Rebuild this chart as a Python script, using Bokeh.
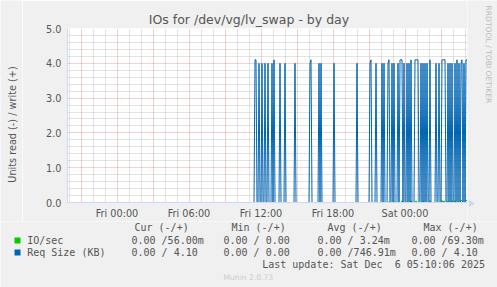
import pandas as pd
from math import pi
from bokeh.plotting import figure
from bokeh.layouts import row, column
from bokeh.models import Range1d, FixedTicker, ColumnDataSource
from bokeh.core.properties import value
from bokeh.embed import file_html
from bokeh.resources import INLINE

# ---------------- data ----------------
title_text = "IOs for /dev/vg/lv_swap - by day"
y_label_text = "Units read (-) / write (+)"
x_tick_times = ["2025-12-05 00:00", "2025-12-05 06:00", "2025-12-05 12:00",
                "2025-12-05 18:00", "2025-12-06 00:00"]
x_tick_labels = ["Fri 00:00", "Fri 06:00", "Fri 12:00", "Fri 18:00", "Sat 00:00"]
y_ticks = [0, 1, 2, 3, 4, 5]
y_tick_labels = ["0.0", "1.0", "2.0", "3.0", "4.0", "5.0"]

# Req Size (KB), write side: samples that are not zero
req_times = ["2025-12-05 11:30", "2025-12-05 11:35", "2025-12-05 11:50", "2025-12-05 12:05",
             "2025-12-05 12:20", "2025-12-05 12:35", "2025-12-05 12:55", "2025-12-05 13:05",
             "2025-12-05 13:35", "2025-12-05 14:00", "2025-12-05 14:50", "2025-12-05 16:05",
             "2025-12-05 16:10", "2025-12-05 16:50", "2025-12-05 17:00", "2025-12-05 18:05",
             "2025-12-05 20:00", "2025-12-05 21:05", "2025-12-05 21:10", "2025-12-05 21:35",
             "2025-12-05 22:05", "2025-12-05 22:15", "2025-12-05 22:35", "2025-12-05 22:40",
             "2025-12-05 22:55", "2025-12-05 23:05", "2025-12-05 23:25", "2025-12-05 23:35",
             "2025-12-05 23:40", "2025-12-05 23:45", "2025-12-05 23:55", "2025-12-06 00:10",
             "2025-12-06 00:20", "2025-12-06 00:30", "2025-12-06 00:50", "2025-12-06 00:55",
             "2025-12-06 01:00", "2025-12-06 01:05", "2025-12-06 01:20", "2025-12-06 01:30",
             "2025-12-06 01:40", "2025-12-06 01:50", "2025-12-06 02:05", "2025-12-06 02:35",
             "2025-12-06 02:50", "2025-12-06 03:05", "2025-12-06 03:10", "2025-12-06 03:15",
             "2025-12-06 03:20", "2025-12-06 03:35", "2025-12-06 03:45", "2025-12-06 03:55",
             "2025-12-06 04:10", "2025-12-06 04:20", "2025-12-06 04:30", "2025-12-06 04:40",
             "2025-12-06 04:45", "2025-12-06 04:55", "2025-12-06 05:05", "2025-12-06 05:10"]
req_kb = [4.1, 4.1, 4.0, 4.0, 4.0, 4.0, 4.0, 4.1, 4.0, 4.0, 4.0, 4.0,
          4.1, 4.0, 4.0, 4.0, 4.0, 4.0, 4.1, 4.0, 4.0, 4.0, 4.0, 4.1,
          4.0, 4.0, 4.0, 4.1, 4.1, 4.1, 4.0, 4.0, 4.0, 4.1, 4.1, 4.1,
          4.1, 4.1, 4.0, 4.0, 4.0, 4.0, 4.1, 4.0, 4.0, 4.1, 4.1, 4.1,
          4.1, 4.0, 4.0, 4.0, 4.0, 4.1, 4.0, 4.0, 4.1, 4.0, 4.1, 4.1]

# IO/sec, write side: samples that are not zero
io_times = ["2025-12-05 22:40", "2025-12-05 23:05", "2025-12-05 23:45", "2025-12-06 00:10",
            "2025-12-06 00:30", "2025-12-06 00:55", "2025-12-06 01:30", "2025-12-06 02:05",
            "2025-12-06 03:05", "2025-12-06 03:15", "2025-12-06 03:35", "2025-12-06 03:55",
            "2025-12-06 04:10", "2025-12-06 04:40", "2025-12-06 04:45", "2025-12-06 05:05",
            "2025-12-06 05:10"]
io_per_sec = [0.03, 0.02, 0.05, 0.03, 0.05, 0.05, 0.04, 0.05, 0.06, 0.05, 0.04, 0.05,
              0.05, 0.0693, 0.05, 0.06, 0.056]

first_sample = "2025-12-04 19:55"
last_sample = "2025-12-06 05:10"

legend_names = ["IO/sec", "Req Size (KB)"]
legend_colors = ["#00CC00", "#0066B3"]
legend_headers = ["Cur (-/+)", "Min (-/+)", "Avg (-/+)", "Max (-/+)"]
cur_vals = ["0.00 /56.00m", "0.00 / 4.10"]
min_vals = ["0.00 / 0.00", "0.00 / 0.00"]
avg_vals = ["0.00 / 3.24m", "0.00 /746.91m"]
max_vals = ["0.00 /69.30m", "0.00 / 4.10"]
last_update = "Last update: Sat Dec \u00a06 05:10:06 2025"
munin_version = "Munin 2.0.73"
watermark = "RRDTOOL / TOBI OETIKER"

# ---------------- series ----------------
grid = pd.date_range(first_sample, last_sample, freq="5min")
req_series = pd.Series(0.0, index=grid)
req_series[pd.to_datetime(req_times)] = req_kb
io_series = pd.Series(0.0, index=grid)
io_series[pd.to_datetime(io_times)] = io_per_sec

def ms(t):
    return pd.Timestamp(t).value / 1e6

STEP = 300000.0  # 5 minutes per pixel
x_start = ms("2025-12-04 19:52:30")
x_end = x_start + 400 * STEP

FONT = "#555555"
BG = "#F0F0F0"
AXIS = "#CFD6F8"
W, H = 497, 287
LEFT_W, RIGHT_W, TOP_H = 22, 30, 221   # strips around the main chart


def strip(w, h, x0, x1, y0, y1):
    f = figure(width=w, height=h, output_backend="svg", toolbar_location=None,
               x_range=Range1d(x0, x1), y_range=Range1d(y1, y0),
               x_axis_location=None, y_axis_location=None,
               min_border=0, min_border_left=0, min_border_right=0,
               min_border_top=0, min_border_bottom=0)
    f.frame_align = False
    f.grid.visible = False
    f.outline_line_color = None
    f.background_fill_color = BG
    f.border_fill_color = BG
    return f

# ---------------- main chart ----------------
p = figure(width=497 - LEFT_W - RIGHT_W, height=TOP_H, x_axis_type="datetime",
           output_backend="svg", toolbar_location=None,
           x_range=Range1d(x_start, x_end), y_range=Range1d(0, 5),
           min_border_left=67 - LEFT_W, min_border_right=0,
           min_border_top=28, min_border_bottom=18)
p.frame_align = False
p.border_fill_color = BG
p.background_fill_color = "#FFFFFF"
p.outline_line_color = None

p.title.text = title_text
p.title.align = "left"
p.title.offset = 81.3
p.title.standoff = 3
p.title.text_font = "DejaVu Sans"
p.title.text_font_size = "12.5px"
p.title.text_font_style = "normal"
p.title.text_color = FONT

xt = [ms(t) for t in x_tick_times]
p.xaxis.ticker = FixedTicker(ticks=xt)
p.xaxis.major_label_overrides = {t: l for t, l in zip(xt, x_tick_labels)}
p.yaxis.ticker = FixedTicker(ticks=y_ticks)
p.yaxis.major_label_overrides = {t: l for t, l in zip(y_ticks, y_tick_labels)}
for ax in (p.xaxis, p.yaxis):
    ax.axis_line_color = AXIS
    ax.major_tick_line_color = None
    ax.minor_tick_line_color = None
    ax.major_tick_out = 0
    ax.major_tick_in = 0
    ax.minor_tick_out = 0
    ax.major_label_text_font = "DejaVu Sans"
    ax.major_label_text_font_size = "9.7px"
    ax.major_label_text_color = FONT
p.yaxis.major_label_standoff = 6
p.xaxis.major_label_standoff = 5

hours = pd.date_range("2025-12-04 20:00", "2025-12-06 05:00", freq="1h")
major_x = [ms(h) for h in hours if h.hour % 3 == 0]
minor_x = [ms(h) for h in hours if h.hour % 3 != 0]
p.xgrid.ticker = FixedTicker(ticks=major_x, minor_ticks=minor_x)
minor_y = [i / 5 for i in range(1, 25) if i % 5 != 0]
p.ygrid.ticker = FixedTicker(ticks=y_ticks, minor_ticks=minor_y)
for g in (p.xgrid, p.ygrid):
    g.grid_line_color = "#E05050"
    g.grid_line_alpha = 0.55
    g.grid_line_dash = "1 1"
    g.minor_grid_line_color = "#909090"
    g.minor_grid_line_alpha = 0.5
    g.minor_grid_line_dash = "1 1"

p.line(x=io_series.index, y=io_series.values, line_color=legend_colors[0], line_width=1)
p.line(x=req_series.index, y=req_series.values, line_color=legend_colors[1], line_width=1)

# ---------------- left strip: unit label ----------------
left = strip(LEFT_W, TOP_H, 0, LEFT_W, 0, TOP_H)
left.text(x=[12], y=[124], text=[y_label_text], text_font=value("DejaVu Sans"),
          text_font_size=value("9.7px"), text_color=FONT, text_align="center",
          text_baseline="middle", angle=pi / 2)

# ---------------- right strip: watermark + arrow ----------------
right = strip(RIGHT_W, TOP_H, 497 - RIGHT_W, 497, 0, TOP_H)
right.text(x=[488], y=[5], text=[watermark], text_font=value("DejaVu Sans"),
           text_font_size=value("7.6px"), text_color="#BBBBBB", text_align="left",
           text_baseline="middle", angle=-pi / 2)
right.scatter(x=[470.5], y=[203], marker="triangle", size=6, angle=-pi / 2,
              fill_color=AXIS, line_color=AXIS)

# ---------------- legend block ----------------
leg = strip(W, H - TOP_H, 0, W, TOP_H, H)
head_src = ColumnDataSource(dict(x=[134, 231, 327, 423], y=[227] * 4, t=legend_headers))
leg.text(x="x", y="y", text="t", source=head_src, text_font=value("DejaVu Sans Mono"),
         text_font_size=value("10px"), text_color=FONT, text_baseline="middle")
rows_y = [240, 252]
leg.rect(x=[17, 17], y=rows_y, width=6, height=6, fill_color=legend_colors,
         line_color=None)
cells_x, cells_y, cells_t = [], [], []
for i in range(2):
    for txt, x in zip([legend_names[i], cur_vals[i], min_vals[i], avg_vals[i], max_vals[i]],
                      [26.7, 131, 223, 317, 411]):
        cells_x.append(x)
        cells_y.append(rows_y[i])
        cells_t.append(txt)
cells_x.append(261.7)
cells_y.append(263.5)
cells_t.append(last_update)
leg.text(x=cells_x, y=cells_y, text=cells_t, text_font=value("DejaVu Sans Mono"),
         text_font_size=value("10px"), text_color=FONT, text_baseline="middle")
leg.text(x=[223], y=[276.5], text=[munin_version], text_font=value("DejaVu Sans"),
         text_font_size=value("7.6px"), text_color="#CCCCCC", text_baseline="middle")

layout = column(row(left, p, right, spacing=0), leg, spacing=0)
open("out.html", "w").write(file_html(layout, INLINE))
